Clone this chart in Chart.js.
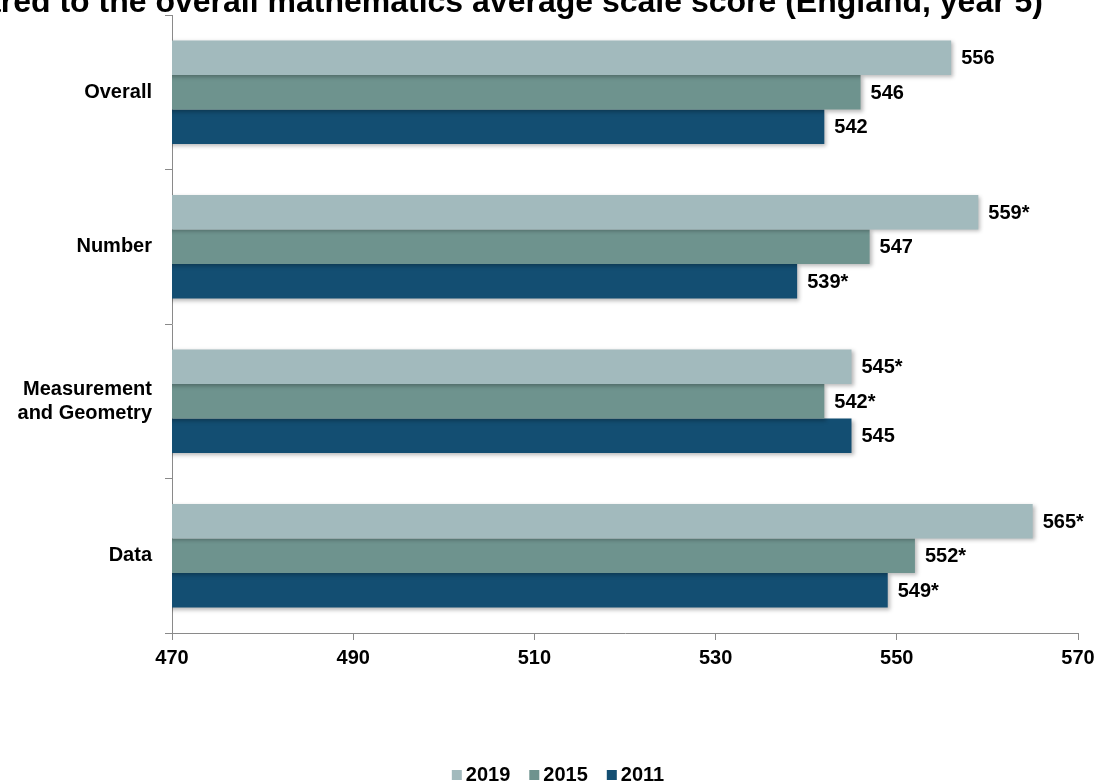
<!DOCTYPE html>
<html>
<head>
<meta charset="utf-8">
<script src="https://cdn.jsdelivr.net/npm/chart.js@4"></script>
<style>
  html, body { margin: 0; padding: 0; background: #ffffff; }
  #wrap { width: 1099px; height: 782px; position: relative; overflow: hidden; }
  canvas { display: block; }
</style>
</head>
<body>
<div id="wrap"><canvas id="c" width="1099" height="782"></canvas></div>
<script>
// ---- data ----
const categories = ['Overall', 'Number', ['Measurement', 'and Geometry'], 'Data'];
const seriesNames = ['2019', '2015', '2011'];
const values2019 = [556, 559, 545, 565];
const values2015 = [546, 547, 542, 552];
const values2011 = [542, 539, 545, 549];
const sig2019 = ['', '*', '*', '*'];
const sig2015 = ['', '', '*', '*'];
const sig2011 = ['', '*', '', '*'];
const xTicks = [470, 490, 510, 530, 550, 570];
const titleText = 'Figure 3.2: Mathematics content domain scores compared to the overall mathematics average scale score (England, year 5)';

// ---- styles ----
const colors = ['#A2BABD', '#6E938E', '#134E72'];
const FONT = '"Liberation Sans", Arial, Helvetica, sans-serif';
const axisGray = '#8a8a8a';

const seriesValues = [values2019, values2015, values2011];
const seriesSig = [sig2019, sig2015, sig2011];

const shadowPlugin = {
  id: 'barShadow',
  beforeDatasetsDraw(chart) {
    const ctx = chart.ctx;
    ctx.save();
    ctx.shadowColor = 'rgba(0,0,0,0.28)';
    ctx.shadowBlur = 4;
    ctx.shadowOffsetX = 2;
    ctx.shadowOffsetY = 2;
  },
  afterDatasetsDraw(chart) {
    const ctx = chart.ctx;
    ctx.restore();
    // value labels
    ctx.save();
    ctx.font = 'bold 20px ' + FONT;
    ctx.fillStyle = '#000000';
    ctx.textAlign = 'left';
    ctx.textBaseline = 'middle';
    chart.data.datasets.forEach((ds, di) => {
      const meta = chart.getDatasetMeta(di);
      meta.data.forEach((el, i) => {
        const txt = String(ds.data[i]) + seriesSig[di][i];
        ctx.fillText(txt, el.x + 10, el.y + 1);
      });
    });
    ctx.restore();
  }
};

const extrasPlugin = {
  id: 'extras',
  afterDraw(chart) {
    const ctx = chart.ctx;
    // clipped title
    ctx.save();
    ctx.font = 'bold 32px ' + FONT;
    ctx.fillStyle = '#000000';
    ctx.textAlign = 'right';
    ctx.textBaseline = 'alphabetic';
    ctx.fillText(titleText, 1043, 12);
    ctx.restore();
    // legend
    ctx.save();
    ctx.font = 'bold 20px ' + FONT;
    ctx.textBaseline = 'alphabetic';
    ctx.textAlign = 'left';
    const box = 10, gap = 4, itemGap = 19;
    const widths = seriesNames.map(n => ctx.measureText(n).width);
    let total = 0;
    widths.forEach((w, i) => { total += box + gap + w + (i < widths.length - 1 ? itemGap : 0); });
    let x = 558 - total / 2;
    const base = 781;
    seriesNames.forEach((n, i) => {
      ctx.fillStyle = colors[i];
      ctx.fillRect(x, base - 11, box, box);
      ctx.fillStyle = '#000000';
      ctx.fillText(n, x + box + gap, base);
      x += box + gap + widths[i] + itemGap;
    });
    ctx.restore();
  }
};

new Chart(document.getElementById('c'), {
  type: 'bar',
  data: {
    labels: categories,
    datasets: seriesNames.map((name, i) => ({
      label: name,
      data: seriesValues[i],
      backgroundColor: colors[i],
      borderWidth: 0,
      categoryPercentage: 0.67,
      barPercentage: 1.0
    }))
  },
  options: {
    indexAxis: 'y',
    responsive: false,
    animation: false,
    devicePixelRatio: 1,
    layout: { padding: { top: 15, right: 21, left: 0, bottom: 0 } },
    plugins: {
      legend: { display: false },
      title: { display: false },
      tooltip: { enabled: false }
    },
    scales: {
      x: {
        type: 'linear',
        min: 470,
        max: 570,
        afterBuildTicks(scale) { scale.ticks = xTicks.map(v => ({ value: v })); },
        afterFit(scale) { scale.height = 149; scale.paddingLeft = 0; scale.paddingRight = 0; },
        grid: { drawOnChartArea: false, drawTicks: true, tickLength: 7, color: axisGray, lineWidth: 1 },
        border: { display: true, color: axisGray, width: 1 },
        ticks: {
          color: '#000000',
          font: { family: FONT, size: 20, weight: 'bold' },
          padding: 6,
          maxRotation: 0
        }
      },
      y: {
        afterFit(scale) { scale.width = 172; scale.paddingTop = 0; scale.paddingBottom = 0; },
        grid: { offset: true, drawOnChartArea: false, drawTicks: true, tickLength: 7, color: axisGray, lineWidth: 1 },
        border: { display: true, color: axisGray, width: 1 },
        ticks: {
          color: '#000000',
          font: { family: FONT, size: 20, weight: 'bold', lineHeight: 1.2 },
          padding: 13
        }
      }
    }
  },
  plugins: [shadowPlugin, extrasPlugin]
});
</script>
</body>
</html>
